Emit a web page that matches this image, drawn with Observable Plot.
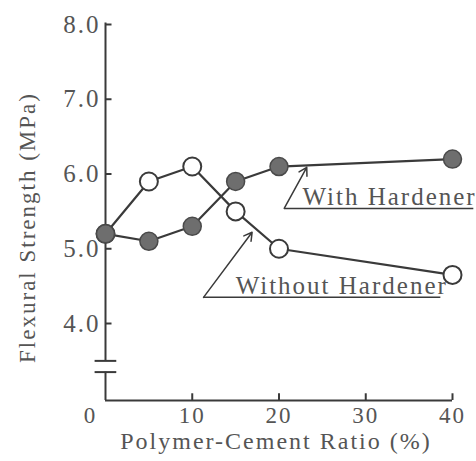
<!DOCTYPE html>
<html><head><meta charset="utf-8">
<script src="https://cdn.jsdelivr.net/npm/d3@7"></script>
<script src="https://cdn.jsdelivr.net/npm/@observablehq/plot@0.6"></script>
<style>
body{margin:0;background:#fff}
svg text{letter-spacing:2px}
</style></head><body><div id="chart"></div>
<script>
const ratio = [0, 5, 10, 15, 20, 40];
const withHardener = [5.2, 5.1, 5.3, 5.9, 6.1, 6.2];
const withoutHardener = [5.2, 5.9, 6.1, 5.5, 5.0, 4.65];
const yTicks = [4, 5, 6, 7, 8];
const yTickLabels = ["4.0", "5.0", "6.0", "7.0", "8.0"];
const xTicks = [0, 10, 20, 30, 40];
const xTickLabels = ["0", "10", "20", "30", "40"];
const axisBreak = [3.5, 3.35];
const yDomain = [2.97, 8.0];
const xDomain = [0, 40];
const xLabel = "Polymer-Cement Ratio (%)";
const yLabel = "Flexural Strength (MPa)";
const annoText = ["With Hardener", "Without Hardener"];
const annoTextX = [22.7, 15.0];
const annoTextY = [5.58, 4.40];
const annoLineX = [[20.6, 42.4], [11.3, 38.6]];
const annoLineY = [5.54, 4.35];
const annoTipX = [23.2, 16.9];
const annoTipY = [6.09, 5.22];

const s1 = ratio.map((x, i) => ({x, y: withHardener[i]}));
const s2 = ratio.map((x, i) => ({x, y: withoutHardener[i]}));
const yt = yTicks.map((v, i) => ({v, t: yTickLabels[i]}));
const xt = xTicks.map((v, i) => ({v, t: xTickLabels[i]}));
const anno = annoText.map((t, i) => ({
  t, x: annoTextX[i], y: annoTextY[i],
  ux1: annoLineX[i][0], ux2: annoLineX[i][1], uy: annoLineY[i],
  tx: annoTipX[i], ty: annoTipY[i]
}));

const ink = "#3a3a3a";
const txt = "#555";
const font = "Liberation Serif, Times New Roman, serif";

const chart = Plot.plot({
  width: 476, height: 461,
  marginLeft: 105, marginRight: 24, marginTop: 24, marginBottom: 61,
  x: {domain: xDomain, axis: null},
  y: {domain: yDomain, axis: null},
  style: {fontFamily: font, background: "#fff"},
  marks: [
    // axes
    Plot.ruleX([0], {y1: yDomain[1] + 0.02, y2: axisBreak[0], stroke: ink, strokeWidth: 2}),
    Plot.ruleX([0], {y1: axisBreak[1], y2: yDomain[0], stroke: ink, strokeWidth: 2}),
    Plot.ruleY(axisBreak, {x1: -1.2, x2: 1.3, stroke: ink, strokeWidth: 2}),
    Plot.ruleY(yTicks, {x1: 0, x2: 0.75, stroke: ink, strokeWidth: 2}),
    Plot.ruleY([yDomain[0]], {x1: 0, x2: 40, stroke: ink, strokeWidth: 2}),
    Plot.ruleX(xTicks.slice(1), {y1: yDomain[0], y2: yDomain[0] + 0.09, stroke: ink, strokeWidth: 2}),
    Plot.text(yt, {x: 0, y: "v", text: "t", textAnchor: "end", dx: -5, fontSize: 25, fill: txt}),
    Plot.text(xt.filter(d => d.v !== 0), {x: "v", y: () => yDomain[0], text: "t", dy: 15, fontSize: 23, fill: txt}),
    Plot.text(xt.filter(d => d.v === 0), {x: "v", y: () => yDomain[0], text: "t", dy: 15, dx: -15, fontSize: 23, fill: txt}),
    Plot.text([xLabel], {frameAnchor: "bottom", dy: 41, dx: -3, fontSize: 24, fill: txt, lineAnchor: "middle"}),
    Plot.text([yLabel], {frameAnchor: "left", rotate: -90, dx: -78, dy: 15, fontSize: 23, fill: txt, textAnchor: "middle", lineAnchor: "middle"}),
    // annotations
    Plot.link(anno, {x1: "ux1", x2: "ux2", y1: "uy", y2: "uy", stroke: ink, strokeWidth: 1.5}),
    Plot.arrow(anno, {x1: "ux1", y1: "uy", x2: "tx", y2: "ty", stroke: ink, strokeWidth: 1.5, headLength: 9}),
    Plot.text(anno, {x: "x", y: "y", text: "t", textAnchor: "start", lineAnchor: "bottom", fontSize: 25, fill: txt}),
    // series
    Plot.line(s2, {x: "x", y: "y", stroke: ink, strokeWidth: 2.2}),
    Plot.line(s1, {x: "x", y: "y", stroke: ink, strokeWidth: 2.2}),
    Plot.dot(s2, {x: "x", y: "y", r: 9, fill: "#fff", stroke: ink, strokeWidth: 2}),
    Plot.dot(s1, {x: "x", y: "y", r: 9, fill: "#6e6e6e", stroke: "#4a4a4a", strokeWidth: 1.5})
  ]
});
document.getElementById("chart").appendChild(chart);
</script></body></html>
